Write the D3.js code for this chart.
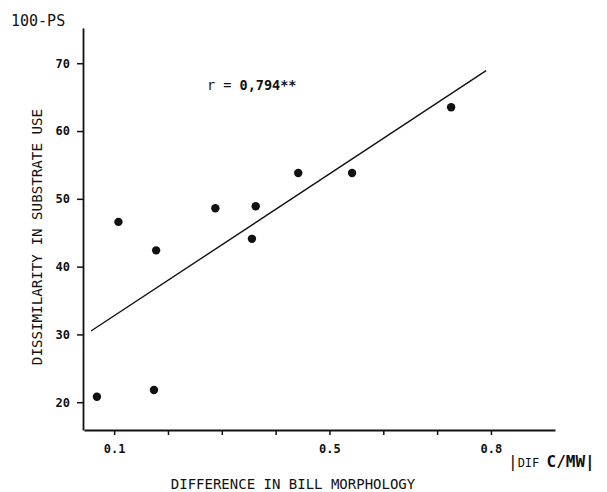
<!DOCTYPE html>
<html>
<head>
<meta charset="utf-8">
<script src="https://cdn.jsdelivr.net/npm/d3@7"></script>
<style>
  body { margin: 0; background: #fff; }
  svg { display: block; }
  text { font-family: "DejaVu Sans Mono", monospace; fill: #111; }
</style>
</head>
<body>
<div id="chart"></div>
<script>
// Punkte
const billDiff = [0.068, 0.108, 0.174, 0.178, 0.288, 0.356, 0.363, 0.442, 0.542, 0.726];
const substrateDiss = [20.8, 46.6, 21.8, 42.4, 48.6, 44.1, 48.9, 53.8, 53.8, 63.5];

// Regressionsgerade (Endpunkte wie gezeichnet)
const lineX = [0.057, 0.791];
const lineY = [30.5, 68.9];

const xTicks = [0.1, 0.2, 0.3, 0.4, 0.5, 0.6, 0.7, 0.8];
const xLabels = ["0.1", "", "", "", "0.5", "", "", "0.8"];
const yTicks = [20, 30, 40, 50, 60, 70];

const width = 607, height = 492;

const svg = d3.select('#chart').append('svg')
  .attr('width', width)
  .attr('height', height);

const x = d3.scaleLinear().domain([0.044, 0.919]).range([84, 555]);
const y = d3.scaleLinear().domain([15.9, 75.2]).range([430, 28]);

// Achsen
const xAxis = svg.append('g')
  .attr('transform', `translate(0,${y(15.9)})`)
  .call(d3.axisBottom(x)
    .tickValues(xTicks)
    .tickSize(5)
    .tickSizeOuter(0)
    .tickPadding(9)
    .tickFormat((d, i) => xLabels[i]));

const yAxis = svg.append('g')
  .attr('transform', `translate(${x(0.044) - 1},0)`)
  .call(d3.axisLeft(y)
    .tickValues(yTicks)
    .tickSize(6)
    .tickSizeOuter(0)
    .tickPadding(7)
    .tickFormat(d3.format('d')));

[xAxis, yAxis].forEach(a => {
  a.select('.domain').attr('stroke', '#111').attr('stroke-width', 1.8);
  a.selectAll('.tick line').attr('stroke', '#111').attr('stroke-width', 1.5);
  a.selectAll('.tick text')
    .style('font-family', '"DejaVu Sans Mono", monospace')
    .style('font-size', '12px')
    .style('font-weight', 'bold')
    .attr('fill', '#111');
});

// Regressionslinie
svg.append('line')
  .attr('x1', x(lineX[0])).attr('y1', y(lineY[0]))
  .attr('x2', x(lineX[1])).attr('y2', y(lineY[1]))
  .attr('stroke', '#111')
  .attr('stroke-width', 1.4);

// Datenpunkte
svg.selectAll('circle.pt')
  .data(billDiff)
  .enter().append('circle')
  .attr('class', 'pt')
  .attr('cx', d => x(d))
  .attr('cy', (d, i) => y(substrateDiss[i]))
  .attr('r', 4.2)
  .attr('fill', '#111');

// Beschriftungen
svg.append('text')
  .attr('x', 11).attr('y', 26)
  .style('font-size', '15px')
  .text('100-PS');

svg.append('text')
  .attr('transform', 'translate(42,237) rotate(-90)')
  .attr('text-anchor', 'middle')
  .style('font-size', '14.2px')
  .text('DISSIMILARITY IN SUBSTRATE USE');

svg.append('text')
  .attr('x', 293).attr('y', 489)
  .attr('text-anchor', 'middle')
  .style('font-size', '14px')
  .text('DIFFERENCE IN BILL MORPHOLOGY');

const rText = svg.append('text')
  .attr('x', 207).attr('y', 90)
  .style('font-size', '13.5px');
rText.append('tspan').text('r = ');
rText.append('tspan').style('font-weight', 'bold').text('0,794**');

const dif = svg.append('text')
  .attr('x', 508).attr('y', 467)
  .style('font-size', '16px');
dif.append('tspan').text('|');
dif.append('tspan').style('font-size', '12px').text('DIF ');
dif.append('tspan').style('font-weight', 'bold').text('C/MW|');
</script>
</body>
</html>
